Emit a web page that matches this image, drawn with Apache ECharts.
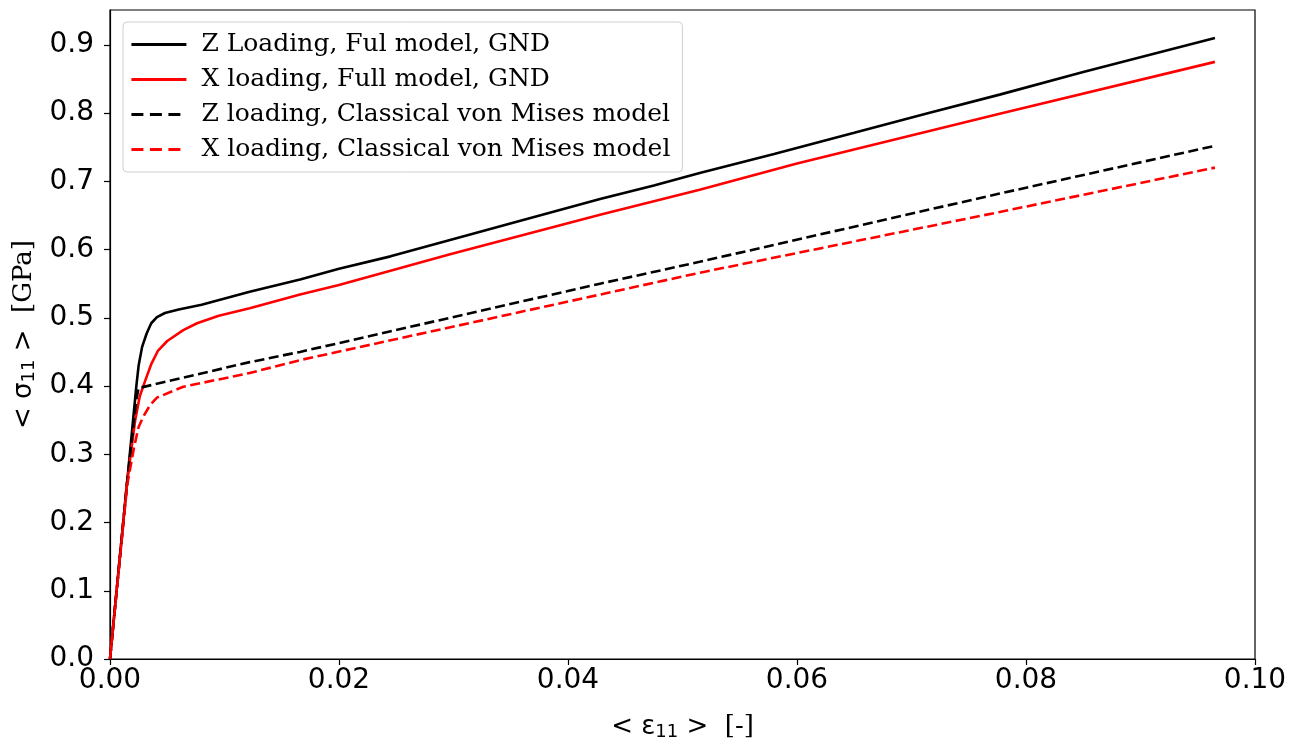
<!DOCTYPE html>
<html>
<head>
<meta charset="utf-8">
<script src="https://cdn.jsdelivr.net/npm/echarts@6/dist/echarts.min.js"></script>
<style>
html,body{margin:0;padding:0;background:#fff;}
#chart{width:1297px;height:745px;}
</style>
</head>
<body>
<div id="chart"></div>
<script>
// Series names
const seriesNames = [
  'Z Loading, Ful model, GND',
  'X loading, Full model, GND',
  'Z loading, Classical von Mises model',
  'X loading, Classical von Mises model'
];

// Strain values (x) and stress values (y, GPa) for each curve
const zFullEps = [0, 0.0015, 0.0023, 0.0025, 0.0028, 0.0032, 0.0036, 0.0041, 0.0048, 0.006, 0.008, 0.0122, 0.0166, 0.020, 0.0245, 0.0297, 0.036, 0.0428, 0.0475, 0.0515, 0.058, 0.065, 0.0715, 0.0777, 0.085, 0.091, 0.0965];
const zFullSig = [0, 0.26, 0.40, 0.43, 0.457, 0.477, 0.492, 0.501, 0.507, 0.512, 0.519, 0.538, 0.556, 0.572, 0.590, 0.614, 0.643, 0.674, 0.694, 0.712, 0.740, 0.771, 0.800, 0.827, 0.860, 0.886, 0.910];

const xFullEps = [0, 0.0015, 0.0022, 0.0026, 0.0031, 0.0036, 0.0042, 0.005, 0.0064, 0.0076, 0.0095, 0.0122, 0.0166, 0.020, 0.0297, 0.0428, 0.0515, 0.060, 0.0777, 0.0965];
const xFullSig = [0, 0.26, 0.35, 0.385, 0.409, 0.432, 0.452, 0.466, 0.482, 0.492, 0.503, 0.514, 0.534, 0.548, 0.593, 0.651, 0.6875, 0.726, 0.799, 0.875];

const zClassEps = [0, 0.0015, 0.0023, 0.0025, 0.0122, 0.0166, 0.0428, 0.0515, 0.0777, 0.0965];
const zClassSig = [0, 0.26, 0.38, 0.397, 0.435, 0.450, 0.550, 0.582, 0.682, 0.752];

const xClassEps = [0, 0.0015, 0.0021, 0.0025, 0.0029, 0.0035, 0.0041, 0.0064, 0.0122, 0.0166, 0.0428, 0.0515, 0.0777, 0.0965];
const xClassSig = [0, 0.255, 0.31, 0.34, 0.355, 0.372, 0.383, 0.399, 0.419, 0.438, 0.534, 0.566, 0.655, 0.720];

// Tick values
const yTicks = [0, 0.1, 0.2, 0.3, 0.4, 0.5, 0.6, 0.7, 0.8, 0.9];
const xTicks = [0, 0.02, 0.04, 0.06, 0.08, 0.1];

function pairs(xs, ys){ return xs.map((x,i)=>[x, ys[i]]); }

const chart = echarts.init(document.getElementById('chart'), null, {renderer:'canvas'});

const colors = ['#000000', '#ff0000', '#000000', '#ff0000'];
const dashedFlags = [false, false, true, true];

function mkSeries(i, xs, ys){
  return {
    name: seriesNames[i],
    type: 'line',
    data: pairs(xs, ys),
    showSymbol: false,
    symbol: 'none',
    smooth: false,
    animation: false,
    lineStyle: {color: colors[i], width: 2.6, type: dashedFlags[i] ? [10, 4.5] : 'solid'},
    itemStyle: {color: colors[i]}
  };
}

const titleRich = {
  a: {fontFamily: 'DejaVu Sans', fontSize: 26, color: '#000'},
  s: {fontFamily: 'DejaVu Sans', fontSize: 18, color: '#000', verticalAlign: 'bottom', padding: [10,0,0,0]},
  b: {fontFamily: 'DejaVu Serif', fontSize: 26, color: '#000'}
};

const option = {
  backgroundColor: '#fff',
  animation: false,
  grid: {left: 110, right: 42, top: 10, bottom: 86, containLabel: false, outerBoundsMode: 'none',
         show: true, borderColor: '#000', borderWidth: 1.2, backgroundColor: 'transparent'},
  legend: {
    orient: 'vertical',
    left: 123, top: 22,
    padding: [10, 12, 10, 7],
    itemWidth: 55, itemHeight: 2,
    itemGap: 10,
    backgroundColor: '#fff',
    borderColor: '#d0d0d0', borderWidth: 1, borderRadius: 4,
    itemStyle: {opacity: 0},
    formatter: n => '{t|' + n + '}',
    textStyle: {
      fontFamily: 'DejaVu Serif', fontSize: 25, color: '#000',
      rich: {t: {fontFamily: 'DejaVu Serif', fontSize: 25, color: '#000', lineHeight: 25, padding: [0,0,0,10]}}
    },
    data: seriesNames.map((n, i) => ({
      name: n,
      lineStyle: {color: colors[i], width: 2.8, type: dashedFlags[i] ? [12, 6.5] : 'solid'}
    }))
  },
  xAxis: {
    type: 'value', min: 0, max: 0.1, interval: 0.02,
    name: '{a|< ε}{s|11}{a| >  }{b|[-]}',
    nameLocation: 'middle', nameGap: 54,
    nameTextStyle: {rich: titleRich},
    axisLine: {show: true, lineStyle: {color: '#000', width: 1.2}},
    axisTick: {show: true, length: 6, lineStyle: {color: '#000', width: 1.2}, customValues: xTicks},
    axisLabel: {fontFamily: 'DejaVu Sans', fontSize: 28, color: '#000', margin: 8, customValues: xTicks, formatter: v => v.toFixed(2)},
    splitLine: {show: false}
  },
  yAxis: {
    type: 'value', min: 0, max: 0.951,
    name: '{a|< σ}{s|11}{a| >  }{b|[GPa]}',
    nameLocation: 'middle', nameGap: 67, nameRotate: 90,
    nameTextStyle: {rich: titleRich},
    axisLine: {show: true, lineStyle: {color: '#000', width: 1.2}},
    axisTick: {show: true, length: 6, lineStyle: {color: '#000', width: 1.2}, customValues: yTicks},
    axisLabel: {fontFamily: 'DejaVu Sans', fontSize: 28, color: '#000', margin: 16, customValues: yTicks, formatter: v => v.toFixed(1)},
    splitLine: {show: false}
  },
  series: [
    mkSeries(0, zFullEps, zFullSig),
    mkSeries(1, xFullEps, xFullSig),
    mkSeries(2, zClassEps, zClassSig),
    mkSeries(3, xClassEps, xClassSig)
  ]
};
chart.setOption(option);
</script>
</body>
</html>
